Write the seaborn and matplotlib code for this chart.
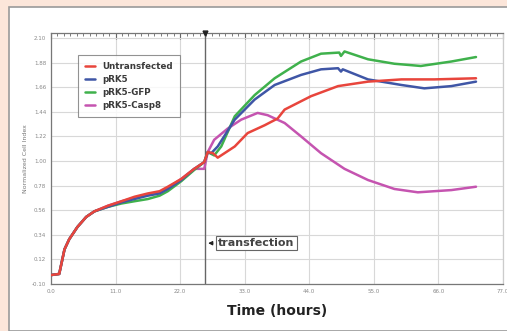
import numpy as np
import pandas as pd
import seaborn as sns
import matplotlib.pyplot as plt
from matplotlib.patches import Rectangle
from matplotlib.ticker import AutoMinorLocator

# Veri: ortak (transfeksiyon oncesi) kisim
t_pre = [0.0, 1.4, 2.3, 3.1, 4.5, 6.0, 7.4, 9.7, 12.0, 14.2, 16.5, 18.5, 19.9, 22.2, 24.4, 26.1]
v_untr_pre = [-0.02, -0.01, 0.21, 0.30, 0.41, 0.50, 0.55, 0.60, 0.64, 0.68, 0.71, 0.73, 0.77, 0.84, 0.93, 0.99]
v_prk5_pre = [-0.02, -0.01, 0.21, 0.30, 0.41, 0.50, 0.55, 0.59, 0.63, 0.66, 0.69, 0.71, 0.75, 0.83, 0.93, 0.99]
v_gfp_pre = [-0.02, -0.01, 0.21, 0.30, 0.41, 0.50, 0.55, 0.59, 0.62, 0.64, 0.66, 0.69, 0.73, 0.82, 0.92, 0.99]
v_casp_pre = [-0.02, -0.01, 0.21, 0.30, 0.41, 0.50, 0.55, 0.60, 0.64, 0.67, 0.70, 0.72, 0.76, 0.84, 0.93, 0.93]

# transfeksiyon sonrasi
t_untr = [26.7, 27.6, 28.4, 31.3, 33.5, 36.4, 38.6, 39.8, 44.3, 48.9, 54.0, 59.7, 65.3, 72.4]
v_untr = [1.08, 1.07, 1.03, 1.13, 1.25, 1.32, 1.38, 1.46, 1.58, 1.67, 1.71, 1.73, 1.73, 1.74]

t_prk5 = [26.7, 27.3, 28.4, 31.3, 34.7, 38.1, 42.6, 46.0, 48.9, 49.4, 49.7, 54.0, 59.7, 63.6, 68.2, 72.4]
v_prk5 = [1.08, 1.07, 1.13, 1.37, 1.55, 1.68, 1.77, 1.82, 1.83, 1.80, 1.82, 1.73, 1.68, 1.65, 1.67, 1.71]

t_gfp = [26.7, 27.8, 29.0, 31.3, 34.7, 38.1, 42.6, 46.0, 49.1, 49.4, 50.0, 54.0, 58.5, 63.0, 68.2, 72.4]
v_gfp = [1.08, 1.05, 1.13, 1.40, 1.59, 1.74, 1.89, 1.96, 1.97, 1.94, 1.98, 1.91, 1.87, 1.85, 1.89, 1.93]

t_casp = [26.7, 27.8, 30.1, 32.4, 35.2, 36.9, 39.8, 42.6, 46.0, 50.0, 54.0, 58.5, 62.5, 65.3, 68.2, 72.4]
v_casp = [1.08, 1.19, 1.29, 1.37, 1.43, 1.41, 1.34, 1.22, 1.07, 0.93, 0.83, 0.75, 0.72, 0.73, 0.74, 0.77]

x_ticks = [0.0, 11.0, 22.0, 33.0, 44.0, 55.0, 66.0, 77.0]
y_ticks = [-0.10, 0.12, 0.34, 0.56, 0.78, 1.00, 1.22, 1.44, 1.66, 1.88, 2.10]

seriler = ["Untransfected", "pRK5", "pRK5-GFP", "pRK5-Casp8"]
renkler = ["#e8453c", "#3f56a6", "#3fb14c", "#c554b0"]

parcalar = []
for ad, tp, vp, ta, va in [
    ("Untransfected", t_pre, v_untr_pre, t_untr, v_untr),
    ("pRK5", t_pre, v_prk5_pre, t_prk5, v_prk5),
    ("pRK5-GFP", t_pre, v_gfp_pre, t_gfp, v_gfp),
    ("pRK5-Casp8", t_pre, v_casp_pre, t_casp, v_casp),
]:
    parcalar.append(pd.DataFrame({"t": tp + ta, "v": vp + va, "seri": ad}))
veri = pd.concat(parcalar, ignore_index=True)

sns.set_style("white")
fig = plt.figure(figsize=(5.07, 3.31), dpi=100)
fig.patch.set_facecolor("#fce6da")
fig.patches.append(Rectangle((9 / 507, 0), 1, 1 - 7 / 331, transform=fig.transFigure,
                             facecolor="white", edgecolor="#9a9a9a", linewidth=1.2, zorder=-10))

ax = fig.add_axes([51 / 507, 47 / 331, 452 / 507, 251 / 331])
ax.set_zorder(5)
ax.set_facecolor("white")

# ciz: Untransfected en ustte
sira = ["pRK5-Casp8", "pRK5-GFP", "pRK5", "Untransfected"]
sns.lineplot(data=veri, x="t", y="v", hue="seri", hue_order=seriler,
             palette=dict(zip(seriler, renkler)), linewidth=1.8, sort=False,
             estimator=None, ax=ax, legend=True)
for ln, ad in zip(ax.lines, seriler):
    ln.set_zorder(3 + sira.index(ad))

ax.set_xlim(0, 77)
ax.set_ylim(-0.10, 2.145)
ax.set_xticks(x_ticks)
ax.set_yticks(y_ticks)
ax.set_xticklabels([f"{x:.1f}" for x in x_ticks])
ax.set_yticklabels([f"{y:.2f}" for y in y_ticks])
ax.xaxis.set_minor_locator(AutoMinorLocator(10))
ax.yaxis.set_minor_locator(AutoMinorLocator(5))
ax.tick_params(which="both", direction="in", top=True, right=False, colors="#666666",
               labelsize=4, labelcolor="#888888")
ax.tick_params(which="major", length=4, width=0.8)
ax.tick_params(which="minor", length=2.5, width=0.6)
ax.grid(True, color="#d8d8d8", linewidth=0.8)
for s in ax.spines.values():
    s.set_color("#777777")
    s.set_linewidth(0.9)
ax.spines["right"].set_color("#cccccc")

ax.set_xlabel("Time (hours)", fontsize=10, fontweight="bold", color="#222222", labelpad=7)
ax.set_ylabel("Normalized Cell Index", fontsize=4.5, color="#777777", labelpad=3)

# transfeksiyon cizgisi
ax.axvline(26.3, color="#666666", linewidth=1.0, zorder=2)
ax.plot([26.3], [2.145], marker="v", color="#222222", markersize=3.5, clip_on=False, zorder=8)
ax.annotate("transfection", xy=(26.3, 0.265), xytext=(35.0, 0.265),
            fontsize=8, fontweight="bold", color="#444444", va="center", ha="center",
            bbox=dict(boxstyle="square,pad=0.2", facecolor="white", edgecolor="#666666", linewidth=0.8),
            arrowprops=dict(arrowstyle="-|>", color="#222222", linewidth=0.8, mutation_scale=6))

leg = ax.legend(loc="upper left", bbox_to_anchor=(0.05, 0.93), fontsize=6.3, frameon=True,
                fancybox=False, edgecolor="#777777", handlelength=1.1, labelspacing=0.45,
                borderpad=0.8, handletextpad=0.9)
leg.get_frame().set_linewidth(0.8)
for txt in leg.get_texts():
    txt.set_color("#3a3a3a")
    txt.set_fontweight("bold")

fig.savefig("out.png", dpi=100, facecolor=fig.get_facecolor())
